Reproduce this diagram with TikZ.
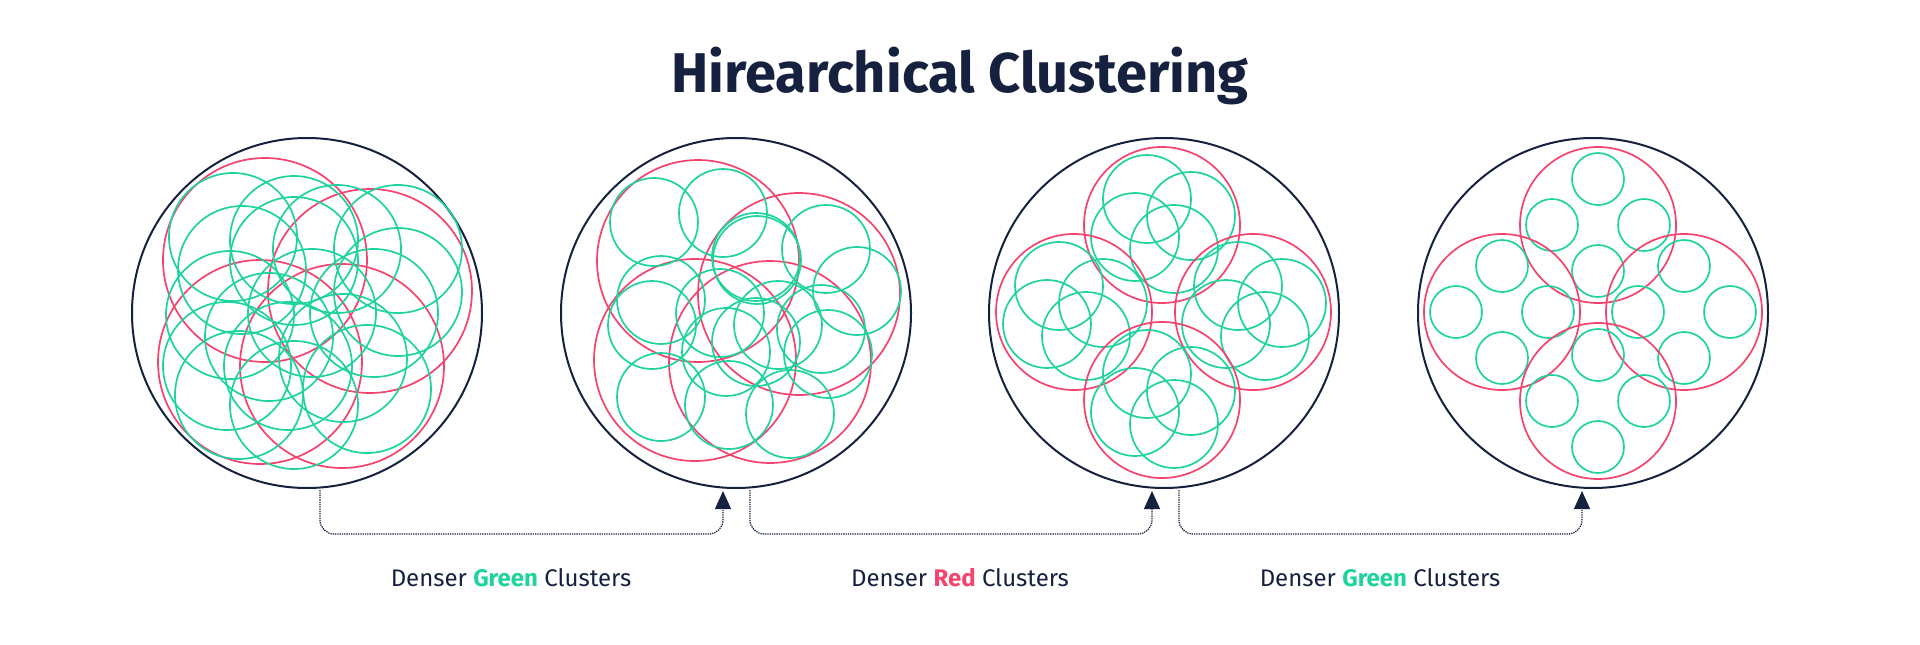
\documentclass[tikz,border=0pt]{standalone}
\usepackage{fontspec}
\setmainfont{Fira Sans}
\usetikzlibrary{arrows.meta}
\definecolor{navy}{HTML}{15213F}
\definecolor{grn}{HTML}{1FD39E}
\definecolor{rd}{HTML}{F4436C}
\tikzset{
 big/.style={draw=navy,line width=2pt},
 rc/.style={draw=rd,line width=1.7pt},
 gc/.style={draw=grn,line width=1.7pt},
 conn/.style={draw=navy,line width=1.3pt,densely dotted,rounded corners=14pt,-{Triangle[length=18pt,width=16pt]}},
 lab/.style={font=\fontsize{24}{27}\selectfont,text=navy}
}
\begin{document}
\begin{tikzpicture}[x=1pt,y=-1pt]
\useasboundingbox (0,0) rectangle (1920,645);
\node[font=\fontsize{56}{64}\selectfont\bfseries,text=navy] (title) at (960,76) {Hirearchical Clustering};
% panel 1
\draw[big] (307,313) circle (175);
\foreach \x/\y in {265/260,370/291,260/362,342/366} \draw[rc] (\x,\y) circle (102);
\foreach \x/\y in {233/237,294/240,242/270,337/249,398/249,294/261,398/292,230/315,312/313,374/313,269/337,227/366,288/366,343/358,239/395,294/405,367/389}
 \draw[gc] (\x,\y) circle (64);
% panel 2
\draw[big] (736,313) circle (175);
\foreach \x/\y in {698/261,799/294,695/360,770/362} \draw[rc] (\x,\y) circle (101);
\foreach \x/\y in {654/222,723/213,661/300,756/257,826/249,857/291,652/325,720/313,778/325,821/329,828/354,661/397,729/405,790/414,726/352,756/342,757/260}
 \draw[gc] (\x,\y) circle (44);
% panel 3
\draw[big] (1164,313) circle (175);
\foreach \cx/\cy in {1162/225,1074/312,1253/312,1162/400}{
 \draw[rc] (\cx,\cy) circle (78);
 \foreach \dx/\dy in {-15/-26,29/-9,-27/12,12/24} \draw[gc] (\cx+\dx,\cy+\dy) circle (44);
}
% panel 4
\draw[big] (1593,313) circle (175);
\foreach \cx/\cy in {1598/225,1502/312,1684/312,1598/401}{
 \draw[rc] (\cx,\cy) circle (78);
 \draw[gc] (\cx,\cy-46) circle (26);
 \draw[gc] (\cx,\cy+46) circle (26);
 \draw[gc] (\cx-46,\cy) circle (26);
 \draw[gc] (\cx+46,\cy) circle (26);
}
% connectors
\coordinate (s1) at (320,490); \coordinate (e1) at (723,491);
\coordinate (s2) at (750,490); \coordinate (e2) at (1152,491);
\coordinate (s3) at (1179,490); \coordinate (e3) at (1582,491);
\draw[conn] (s1) |- (521,534) -| (e1);
\draw[conn] (s2) |- (951,534) -| (e2);
\draw[conn] (s3) |- (1380,534) -| (e3);
\node[lab] (l1) at (511,578) {Denser \textbf{\textcolor{grn}{Green}} Clusters};
\node[lab] (l2) at (960,578) {Denser \textbf{\textcolor{rd}{Red}} Clusters};
\node[lab] (l3) at (1380,578) {Denser \textbf{\textcolor{grn}{Green}} Clusters};
\end{tikzpicture}
\end{document}
